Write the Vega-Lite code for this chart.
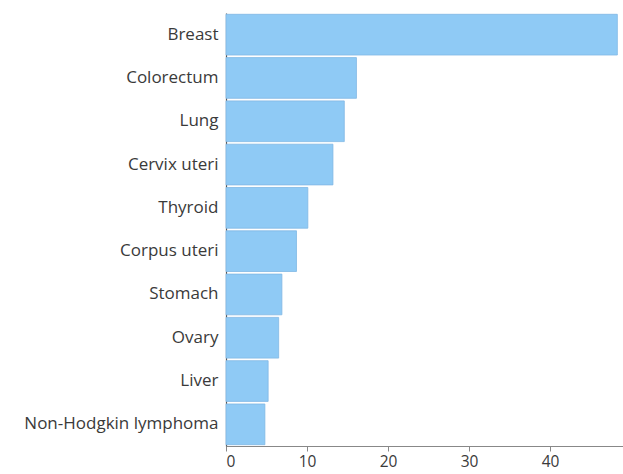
{
  "$schema": "https://vega.github.io/schema/vega-lite/v6.json",
  "autosize": {"type": "none"},
  "padding": {"left": 226, "top": 13, "right": 0, "bottom": 28},
  "width": 397,
  "height": 433,
  "background": "white",
  "data": {"values": [
    {"cancer": "Breast", "rate": 48.3},
    {"cancer": "Colorectum", "rate": 16.1},
    {"cancer": "Lung", "rate": 14.6},
    {"cancer": "Cervix uteri", "rate": 13.2},
    {"cancer": "Thyroid", "rate": 10.1},
    {"cancer": "Corpus uteri", "rate": 8.7},
    {"cancer": "Stomach", "rate": 6.9},
    {"cancer": "Ovary", "rate": 6.5},
    {"cancer": "Liver", "rate": 5.2},
    {"cancer": "Non-Hodgkin lymphoma", "rate": 4.8}
  ]},
  "mark": {"type": "bar", "color": "#8fcaf5", "stroke": "#80b8e4", "strokeWidth": 0.8},
  "encoding": {
    "y": {"field": "cancer", "type": "nominal", "sort": null, "title": null,
      "scale": {"paddingInner": 0.06, "paddingOuter": 0.03},
      "axis": {"ticks": false, "labelPadding": 8, "labelFont": "Open Sans", "labelFontSize": 17, "labelColor": "#3a3a3a", "domainColor": "#555", "domainWidth": 1.2, "labelLimit": 300}},
    "x": {"field": "rate", "type": "quantitative", "title": null,
      "scale": {"domain": [0, 49], "nice": false},
      "axis": {"values": [0, 10, 20, 30, 40], "grid": false, "tickSize": 5, "tickColor": "#888", "domainColor": "#888", "labelFont": "Open Sans", "labelFontSize": 15.5, "labelColor": "#3a3a3a", "labelPadding": 3}}
  },
  "config": {"view": {"stroke": null}}
}
